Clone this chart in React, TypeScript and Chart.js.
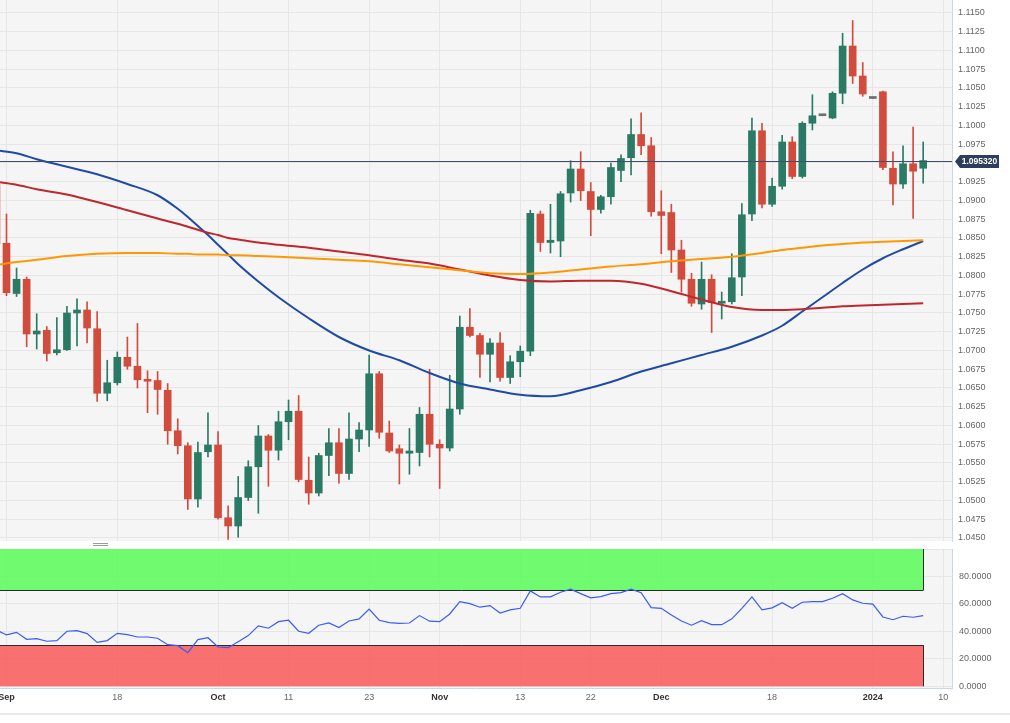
import React, { useEffect, useRef } from 'react';
import { Chart, registerables } from 'chart.js';

Chart.register(...registerables);

const FONT = '"Liberation Sans", Arial, Helvetica, sans-serif';

// Trading sessions (x categories). The last two have no candle yet.
const sessions = [
  'Aug 31', 'Sep 1',
  'Sep 4', 'Sep 5', 'Sep 6', 'Sep 7', 'Sep 8',
  'Sep 11', 'Sep 12', 'Sep 13', 'Sep 14', 'Sep 15',
  'Sep 18', 'Sep 19', 'Sep 20', 'Sep 21', 'Sep 22',
  'Sep 25', 'Sep 26', 'Sep 27', 'Sep 28', 'Sep 29',
  'Oct 2', 'Oct 3', 'Oct 4', 'Oct 5', 'Oct 6',
  'Oct 9', 'Oct 10', 'Oct 11', 'Oct 12', 'Oct 13',
  'Oct 16', 'Oct 17', 'Oct 18', 'Oct 19', 'Oct 20',
  'Oct 23', 'Oct 24', 'Oct 25', 'Oct 26', 'Oct 27',
  'Oct 30', 'Oct 31', 'Nov 1', 'Nov 2', 'Nov 3',
  'Nov 6', 'Nov 7', 'Nov 8', 'Nov 9', 'Nov 10',
  'Nov 13', 'Nov 14', 'Nov 15', 'Nov 16', 'Nov 17',
  'Nov 20', 'Nov 21', 'Nov 22', 'Nov 23', 'Nov 24',
  'Nov 27', 'Nov 28', 'Nov 29', 'Nov 30', 'Dec 1',
  'Dec 4', 'Dec 5', 'Dec 6', 'Dec 7', 'Dec 8',
  'Dec 11', 'Dec 12', 'Dec 13', 'Dec 14', 'Dec 15',
  'Dec 18', 'Dec 19', 'Dec 20', 'Dec 21', 'Dec 22',
  'Dec 25', 'Dec 26', 'Dec 27', 'Dec 28', 'Dec 29',
  'Jan 1', 'Jan 2', 'Jan 3', 'Jan 4', 'Jan 5',
  'Jan 8', 'Jan 9', 'Jan 10',
];

const openPrices = [
  1.0921, 1.0843,
  1.0776, 1.0795, 1.0722, 1.0727, 1.0697,
  1.0701, 1.0750, 1.0754, 1.0729, 1.0643,
  1.0657, 1.0691, 1.0679, 1.0661, 1.0660,
  1.0647, 1.0593, 1.0573, 1.0502, 1.0565,
  1.0574, 1.0477, 1.0466, 1.0504, 1.0545,
  1.0586, 1.0567, 1.0605, 1.0619, 1.0527,
  1.0510, 1.0560, 1.0577, 1.0536, 1.0582,
  1.0594, 1.0669, 1.0590, 1.0569, 1.0563,
  1.0564, 1.0615, 1.0575, 1.0570, 1.0622,
  1.0731, 1.0720, 1.0695, 1.0710, 1.0664,
  1.0685, 1.0699, 1.0882, 1.0844, 1.0846,
  1.0910, 1.0942, 1.0912, 1.0888, 1.0905,
  1.0940, 1.0957, 1.0988, 1.0973, 1.0885,
  1.0884, 1.0834, 1.0795, 1.0762, 1.0795,
  1.0763, 1.0765, 1.0798, 1.0882, 1.0993,
  1.0895, 1.0919, 1.0978, 1.0932, 1.1003,
  1.1013, 1.1010, 1.1043, 1.1106, 1.1066,
  1.1036, 1.1045, 1.0943, 1.0922, 1.0949,
  1.0943,
];

const highPrices = [
  1.0945, 1.0882,
  1.0810, 1.0798, 1.0749, 1.0732, 1.0744,
  1.0759, 1.0769, 1.0765, 1.0752, 1.0687,
  1.0698, 1.0718, 1.0736, 1.0673, 1.0672,
  1.0656, 1.0609, 1.0577, 1.0578, 1.0617,
  1.0592, 1.0493, 1.0532, 1.0553, 1.0600,
  1.0588, 1.0619, 1.0634, 1.0640, 1.0558,
  1.0563, 1.0596, 1.0596, 1.0617, 1.0604,
  1.0694, 1.0672, 1.0606, 1.0574, 1.0596,
  1.0624, 1.0675, 1.0581, 1.0667, 1.0746,
  1.0756, 1.0723, 1.0716, 1.0724, 1.0693,
  1.0706, 1.0887, 1.0886, 1.0895, 1.0912,
  1.0953, 1.0965, 1.0924, 1.0907, 1.0950,
  1.0961, 1.1009, 1.1017, 1.0984, 1.0913,
  1.0895, 1.0847, 1.0803, 1.0818, 1.0801,
  1.0778, 1.0829, 1.0896, 1.1010, 1.1003,
  1.0930, 1.0987, 1.0985, 1.1005, 1.1041,
  1.1013, 1.1045, 1.1123, 1.1140, 1.1084,
  1.1036, 1.1046, 1.0965, 1.0973, 1.0998,
  1.0978,
];

const lowPrices = [
  1.0834, 1.0773,
  1.0772, 1.0705, 1.0702, 1.0686, 1.0694,
  1.0700, 1.0706, 1.0710, 1.0632, 1.0633,
  1.0654, 1.0675, 1.0650, 1.0617, 1.0615,
  1.0575, 1.0562, 1.0488, 1.0491, 1.0558,
  1.0475, 1.0448, 1.0451, 1.0500, 1.0483,
  1.0519, 1.0554, 1.0581, 1.0525, 1.0495,
  1.0506, 1.0533, 1.0523, 1.0528, 1.0565,
  1.0572, 1.0583, 1.0564, 1.0522, 1.0535,
  1.0546, 1.0558, 1.0516, 1.0566, 1.0615,
  1.0718, 1.0664, 1.0658, 1.0659, 1.0656,
  1.0665, 1.0693, 1.0832, 1.0830, 1.0825,
  1.0898, 1.0900, 1.0853, 1.0883, 1.0895,
  1.0925, 1.0934, 1.0961, 1.0879, 1.0829,
  1.0804, 1.0778, 1.0759, 1.0755, 1.0724,
  1.0742, 1.0762, 1.0773, 1.0873, 1.0890,
  1.0892, 1.0915, 1.0929, 1.0930, 1.0994,
  1.1013, 1.1009, 1.1029, 1.1056, 1.1039,
  1.1036, 1.0941, 1.0894, 1.0916, 1.0876,
  1.0923,
];

const closePrices = [
  1.0842, 1.0777,
  1.0795, 1.0722, 1.0726, 1.0696, 1.0701,
  1.0750, 1.0754, 1.0730, 1.0643, 1.0657,
  1.0691, 1.0679, 1.0661, 1.0659, 1.0648,
  1.0593, 1.0573, 1.0502, 1.0564, 1.0574,
  1.0477, 1.0466, 1.0504, 1.0545, 1.0586,
  1.0567, 1.0605, 1.0619, 1.0528, 1.0510,
  1.0560, 1.0577, 1.0536, 1.0582, 1.0594,
  1.0669, 1.0591, 1.0566, 1.0563, 1.0566,
  1.0615, 1.0575, 1.0570, 1.0622, 1.0731,
  1.0720, 1.0695, 1.0710, 1.0664, 1.0685,
  1.0699, 1.0883, 1.0844, 1.0847, 1.0909,
  1.0942, 1.0913, 1.0888, 1.0905, 1.0944,
  1.0956, 1.0988, 1.0973, 1.0885, 1.0880,
  1.0834, 1.0795, 1.0763, 1.0795, 1.0764,
  1.0765, 1.0797, 1.0881, 1.0993, 1.0895,
  1.0919, 1.0978, 1.0932, 1.1003, 1.1013,
  1.1013, 1.1043, 1.1106, 1.1066, 1.1042,
  1.1036, 1.0944, 1.0922, 1.0949, 1.0939,
  1.09532,
];

const rsiValues = [
  41.0, 37.4,
  39.3, 34.2, 34.7, 32.8, 33.3,
  40.1, 40.5, 38.4, 32.0, 33.3,
  38.6, 37.6, 35.9, 35.9, 35.0,
  30.3, 29.6, 24.5, 34.0, 35.4,
  28.6, 28.1, 32.5, 36.9, 44.0,
  42.3, 47.1, 48.1, 40.1, 38.6,
  44.5, 46.1, 42.8, 47.6, 49.1,
  56.3, 48.1, 46.4, 45.9, 46.1,
  51.5, 47.4, 47.1, 52.7, 61.7,
  60.2, 57.6, 58.8, 53.4, 55.6,
  56.8, 69.5, 65.1, 65.1, 68.5,
  70.7, 67.5, 64.4, 65.3, 67.5,
  68.2, 70.7, 68.2, 57.3, 56.8,
  52.0, 47.6, 44.5, 47.8, 44.9,
  44.9, 49.1, 56.8, 65.1, 55.6,
  57.1, 60.9, 56.8, 61.2, 61.7,
  61.7, 64.1, 67.5, 62.9, 60.5,
  59.8, 50.5, 48.5, 51.0, 50.3,
  51.5,
];

// Moving averages at these sessions
const maDates = [
  'Aug 31', 'Sep 4', 'Sep 6', 'Sep 11', 'Sep 14', 'Sep 19', 'Sep 22', 'Sep 26',
  'Sep 27', 'Sep 28', 'Sep 29', 'Oct 2', 'Oct 3', 'Oct 4', 'Oct 6', 'Oct 10',
  'Oct 13', 'Oct 18', 'Oct 23', 'Oct 26', 'Oct 31', 'Nov 3', 'Nov 8', 'Nov 13',
  'Nov 16', 'Nov 21', 'Nov 24', 'Nov 29', 'Dec 4', 'Dec 7', 'Dec 12', 'Dec 15',
  'Dec 19', 'Dec 21', 'Dec 25', 'Dec 27', 'Dec 29', 'Jan 2', 'Jan 4', 'Jan 8',
];
const sma50 = [
  1.0967, 1.0963, 1.0955, 1.0945, 1.0935, 1.0922, 1.0907, 1.0889,
  1.0878, 1.0866, 1.0854, 1.0841, 1.0828, 1.0815, 1.0792, 1.0771,
  1.0743, 1.0718, 1.0700, 1.0687, 1.0670, 1.0656, 1.0648, 1.0641,
  1.0639, 1.0647, 1.0658, 1.0672, 1.0683, 1.0694, 1.0705, 1.0720,
  1.0733, 1.0752, 1.0771, 1.0790, 1.0808, 1.0823, 1.0835, 1.0846,
];
const sma100 = [
  1.0925, 1.0921, 1.0915, 1.0908, 1.0898, 1.0887, 1.0876, 1.0869,
  1.0865, 1.0861, 1.0857, 1.0854, 1.0850, 1.0848, 1.0844, 1.0841,
  1.0837, 1.0832, 1.0827, 1.0821, 1.0816, 1.0808, 1.0800, 1.0794,
  1.0792, 1.0793, 1.0793, 1.0789, 1.0779, 1.0768, 1.0758, 1.0754,
  1.0754, 1.0755, 1.0757, 1.0759, 1.0760, 1.0761, 1.0762, 1.0763,
];
const sma200 = [
  1.0814, 1.0818, 1.0821, 1.0826, 1.0829, 1.0830, 1.0830, 1.0829,
  1.0829, 1.0828, 1.0828, 1.0828, 1.0827, 1.0827, 1.0826, 1.0825,
  1.0823, 1.0821, 1.0819, 1.0815, 1.0811, 1.0807, 1.0803, 1.0802,
  1.0804, 1.0808, 1.0812, 1.0815, 1.0819, 1.0822, 1.0825, 1.0830,
  1.0834, 1.0837, 1.0840, 1.0842, 1.0844, 1.0845, 1.0846, 1.0847,
];

const tickDates = ['Sep 1', 'Sep 18', 'Oct 2', 'Oct 11', 'Oct 23', 'Nov 1', 'Nov 13', 'Nov 22', 'Dec 1', 'Dec 18', 'Jan 1', 'Jan 10'];
const tickLabels = ['Sep', '18', 'Oct', '11', '23', 'Nov', '13', '22', 'Dec', '18', '2024', '10'];
const boldLabels = ['Sep', 'Oct', 'Nov', 'Dec', '2024'];

const currentPrice = 1.09532;
const priceStep = 0.0025;
const rsiStep = 20;
const rsiOverbought = 70;
const rsiOversold = 30;

const UP = '#2b7a66';
const DOWN = '#d24c3d';
const FLAT = '#6e6e6e';
const GRID = '#e6e6e6';
const AXIS = '#ccd6eb';
const PLOT_BG = '#f5f5f5';

const tickPositions = tickDates.map((d) => sessions.indexOf(d));
const X_MIN = 0.355;
const X_MAX = 94.86;

function candleColor(k: number) {
  if (closePrices[k] > openPrices[k]) return UP;
  if (closePrices[k] < openPrices[k]) return DOWN;
  return FLAT;
}

function maPoints(values: number[]) {
  return maDates.map((d, i) => ({ x: sessions.indexOf(d), y: values[i] }));
}

// Ticks on whole multiples of the step, inside the scale's range
function stepTicks(step: number) {
  return (s: any) => {
    const out: { value: number }[] = [];
    const first = Math.ceil(s.min / step - 1e-9);
    for (let i = first; i * step <= s.max + 1e-9; i++) {
      out.push({ value: Number((i * step).toFixed(6)) });
    }
    s.ticks = out;
  };
}

function xScale(showLabels: boolean): any {
  return {
    type: 'linear',
    min: X_MIN,
    max: X_MAX,
    bounds: 'data',
    offset: false,
    afterBuildTicks: (s: any) => {
      s.ticks = tickPositions.map((v) => ({ value: v }));
    },
    grid: { color: GRID, drawTicks: false, offset: false },
    border: { display: showLabels, color: AXIS },
    ticks: showLabels
      ? {
          display: true,
          autoSkip: false,
          maxRotation: 0,
          minRotation: 0,
          padding: 4.6,
          callback: (_v: any, i: number) => tickLabels[i],
          font: (ctx: any) => ({
            family: FONT,
            size: 9,
            weight: boldLabels.includes(tickLabels[ctx.index]) ? 'bold' : 'normal',
          }),
          color: (ctx: any) => (boldLabels.includes(tickLabels[ctx.index]) ? '#333333' : '#666666'),
        }
      : { display: false },
    afterFit: (s: any) => {
      s.height = showLabels ? 35 : 7;
      s.paddingLeft = 0;
      s.paddingRight = 0;
    },
  };
}

const bgPlugin = {
  id: 'plotBg',
  beforeDraw(chart: any) {
    const { ctx, chartArea: a } = chart;
    ctx.save();
    ctx.fillStyle = PLOT_BG;
    ctx.fillRect(a.left, a.top, a.right - a.left, a.bottom - a.top);
    ctx.restore();
  },
};

const pricePlugin = {
  id: 'priceLine',
  afterDatasetsDraw(chart: any) {
    const { ctx, chartArea: a, scales } = chart;
    const py = Math.round(scales.y.getPixelForValue(currentPrice)) + 0.5;
    ctx.save();
    ctx.strokeStyle = '#3c4f72';
    ctx.lineWidth = 1;
    ctx.beginPath();
    ctx.moveTo(a.left, py);
    ctx.lineTo(a.right, py);
    ctx.stroke();
    ctx.restore();
  },
  afterDraw(chart: any) {
    const { ctx, chartArea: a, scales } = chart;
    const py = Math.round(scales.y.getPixelForValue(currentPrice));
    const x0 = a.right + 3;
    ctx.save();
    ctx.fillStyle = '#2c3e5e';
    ctx.beginPath();
    ctx.moveTo(x0, py + 0.5);
    ctx.lineTo(x0 + 5, py - 6);
    ctx.lineTo(x0 + 44, py - 6);
    ctx.lineTo(x0 + 44, py + 7);
    ctx.lineTo(x0 + 5, py + 7);
    ctx.closePath();
    ctx.fill();
    ctx.fillStyle = '#ffffff';
    ctx.font = `bold 8.5px ${FONT}`;
    ctx.textAlign = 'center';
    ctx.textBaseline = 'middle';
    ctx.fillText(currentPrice.toFixed(6), x0 + 24.5, py + 1);
    ctx.restore();
  },
};

const bandPlugin = {
  id: 'rsiBands',
  beforeDatasetsDraw(chart: any) {
    const { ctx, chartArea: a, scales } = chart;
    const { x, y } = scales;
    const xr = Math.round(x.getPixelForValue(closePrices.length - 1)) + 0.5;
    ctx.save();
    ctx.beginPath();
    ctx.rect(a.left, a.top, a.right - a.left, a.bottom - a.top);
    ctx.clip();
    const band = (lo: number, hi: number, fill: string, edge: number) => {
      const yt = y.getPixelForValue(hi);
      const yb = y.getPixelForValue(lo);
      ctx.fillStyle = fill;
      ctx.fillRect(a.left, yt, xr - a.left, yb - yt);
      ctx.strokeStyle = '#2b2b2b';
      ctx.lineWidth = 1;
      const ye = Math.round(y.getPixelForValue(edge)) + 0.5;
      ctx.beginPath();
      ctx.moveTo(a.left, ye);
      ctx.lineTo(xr, ye);
      ctx.moveTo(xr, yt);
      ctx.lineTo(xr, yb);
      ctx.stroke();
    };
    band(rsiOverbought, 100, 'rgba(100, 250, 100, 0.92)', rsiOverbought);
    band(0, rsiOversold, 'rgba(247, 100, 100, 0.92)', rsiOversold);
    ctx.restore();
  },
};

export default function App() {
  const mainRef = useRef<HTMLCanvasElement>(null);
  const rsiRef = useRef<HTMLCanvasElement>(null);

  useEffect(() => {
    const n = closePrices.length;
    const idx = Array.from({ length: n }, (_, k) => k);
    const bodies = idx.map((k) => ({ x: k, y: [openPrices[k], closePrices[k]] }));
    const wicks = idx.map((k) => ({ x: k, y: [lowPrices[k], highPrices[k]] }));

    const main = new Chart(mainRef.current as HTMLCanvasElement, {
      type: 'bar',
      data: {
        datasets: [
          {
            type: 'line',
            label: 'SMA 200',
            data: maPoints(sma200),
            borderColor: '#ff9800',
            borderWidth: 2,
            pointRadius: 0,
            cubicInterpolationMode: 'monotone',
            order: 0,
          },
          {
            type: 'line',
            label: 'SMA 100',
            data: maPoints(sma100),
            borderColor: '#c0262d',
            borderWidth: 2,
            pointRadius: 0,
            cubicInterpolationMode: 'monotone',
            order: 0,
          },
          {
            type: 'line',
            label: 'SMA 50',
            data: maPoints(sma50),
            borderColor: '#1f4ba5',
            borderWidth: 2,
            pointRadius: 0,
            cubicInterpolationMode: 'monotone',
            order: 0,
          },
          {
            type: 'bar',
            label: 'Body',
            data: bodies as any,
            backgroundColor: (c: any) => candleColor(c.dataIndex),
            barThickness: 7,
            minBarLength: 2,
            grouped: false,
            borderWidth: 0,
            order: 1,
          },
          {
            type: 'bar',
            label: 'Wick',
            data: wicks as any,
            backgroundColor: (c: any) => candleColor(c.dataIndex),
            barThickness: 1,
            grouped: false,
            borderWidth: 0,
            order: 2,
          },
        ] as any,
      },
      options: {
        animation: false,
        responsive: false,
        maintainAspectRatio: false,
        devicePixelRatio: 1,
        events: [],
        layout: { padding: 0 },
        plugins: { legend: { display: false }, tooltip: { enabled: false } },
        scales: {
          x: xScale(false),
          y: {
            type: 'linear',
            position: 'right',
            bounds: 'data',
            min: 1.0446,
            max: 1.116733,
            afterBuildTicks: stepTicks(priceStep),
            grid: { color: GRID, drawTicks: false },
            border: { color: AXIS },
            ticks: {
              autoSkip: false,
              padding: 6,
              color: '#666666',
              font: { family: FONT, size: 9 },
              callback: (v: any) => (Math.abs(Number(v) - currentPrice) < 0.001 ? '' : Number(v).toFixed(4)),
            },
            afterFit: (s: any) => {
              s.width = 58;
              s.paddingTop = 0;
              s.paddingBottom = 0;
            },
          },
        } as any,
      },
      plugins: [bgPlugin, pricePlugin],
    } as any);

    const rsi = new Chart(rsiRef.current as HTMLCanvasElement, {
      type: 'line',
      data: {
        datasets: [
          {
            label: 'RSI',
            data: idx.map((k) => ({ x: k, y: rsiValues[k] })),
            borderColor: '#3b5bf7',
            borderWidth: 1.2,
            pointRadius: 0,
            tension: 0,
          },
        ],
      },
      options: {
        animation: false,
        responsive: false,
        maintainAspectRatio: false,
        devicePixelRatio: 1,
        events: [],
        layout: { padding: { top: 1, left: 0, right: 0, bottom: 0 } },
        plugins: { legend: { display: false }, tooltip: { enabled: false } },
        scales: {
          x: xScale(true),
          y: {
            type: 'linear',
            position: 'right',
            bounds: 'data',
            min: -1.24,
            max: 100,
            afterBuildTicks: stepTicks(rsiStep),
            grid: { color: GRID, drawTicks: false },
            border: { color: AXIS },
            ticks: {
              autoSkip: false,
              padding: 7,
              color: '#666666',
              font: { family: FONT, size: 9 },
              callback: (v: any) => (Number(v) >= 100 ? '' : Number(v).toFixed(4)),
            },
            afterFit: (s: any) => {
              s.width = 58;
              s.paddingTop = 0;
              s.paddingBottom = 0;
            },
          },
        } as any,
      },
      plugins: [bgPlugin, bandPlugin],
    } as any);

    return () => {
      main.destroy();
      rsi.destroy();
    };
  }, []);

  return (
    <div
      style={{
        position: 'fixed',
        left: 0,
        top: 0,
        width: 1010,
        height: 723,
        background: '#ffffff',
        overflow: 'hidden',
      }}
    >
      <canvas
        ref={mainRef}
        width={1010}
        height={548}
        style={{ position: 'absolute', left: 0, top: 0, width: 1010, height: 548 }}
      />
      <div style={{ position: 'absolute', left: 93, top: 543, width: 15, height: 1, background: '#9a9a9a' }} />
      <div style={{ position: 'absolute', left: 93, top: 545, width: 15, height: 1, background: '#9a9a9a' }} />
      <canvas
        ref={rsiRef}
        width={1010}
        height={175}
        style={{ position: 'absolute', left: 0, top: 548, width: 1010, height: 175 }}
      />
      <div style={{ position: 'absolute', left: 0, top: 713, width: 1010, height: 2, background: '#e9e9e9' }} />
    </div>
  );
}
